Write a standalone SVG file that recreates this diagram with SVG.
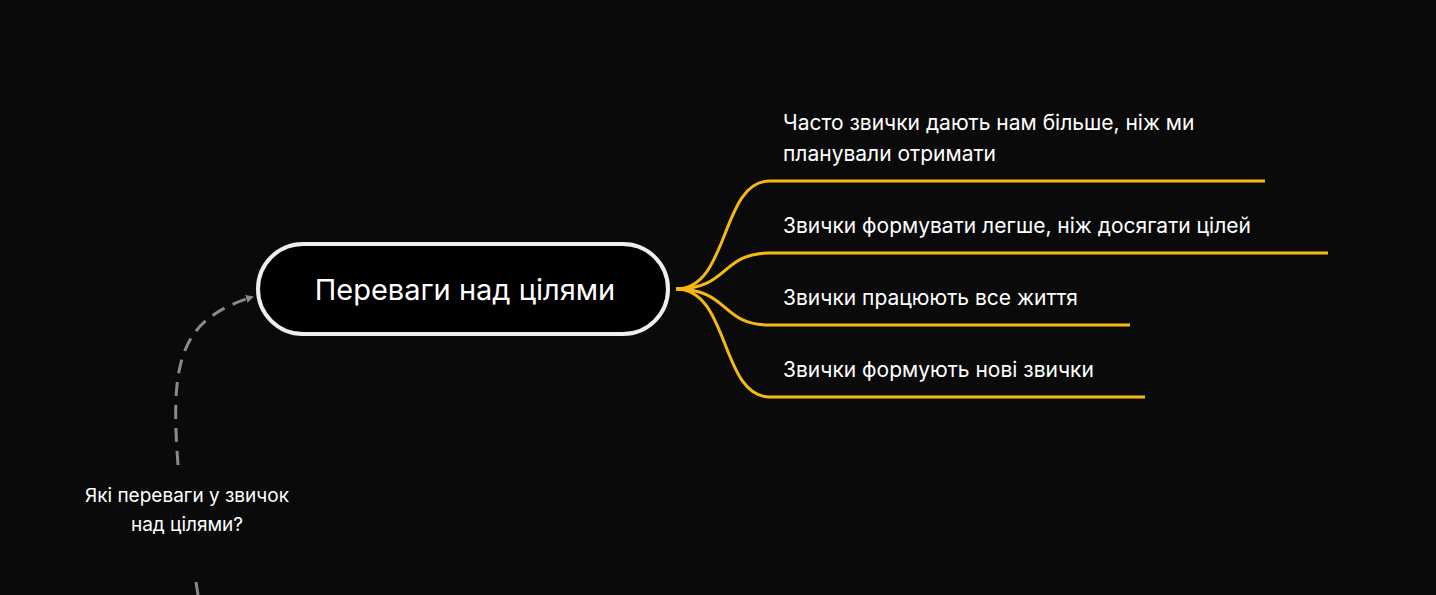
<svg xmlns="http://www.w3.org/2000/svg" width="1436" height="595" viewBox="0 0 1436 595">
<style>
text{font-family:Inter,"Noto Sans",sans-serif;fill:#fff}
.b{fill:none;stroke:#f5b914;stroke-width:3}
.d{fill:none;stroke:#8a8a8a;stroke-width:3;stroke-dasharray:14 9}
.t{font-size:21px}
</style>
<defs><marker id="ah" markerWidth="8" markerHeight="8" refX="6" refY="4" orient="auto" markerUnits="userSpaceOnUse" viewBox="0 0 8 8"><path d="M0,0 L8,4 L0,8 z" fill="#8a8a8a"/></marker></defs>
<rect width="1436" height="595" fill="#0a0a0a"/>
<g id="connectors">
<path class="b" d="M676,289 C730,289 720,181 770,181 L1265,181"/>
<path class="b" d="M676,289 C730,289 720,253 770,253 L1328,253"/>
<path class="b" d="M676,289 C730,289 720,325 770,325 L1130,325"/>
<path class="b" d="M676,289 C730,289 720,397 770,397 L1145,397"/>
<path class="d" d="M178,465 C170,360 180,320 252,297" marker-end="url(#ah)"/>
<path class="d" d="M196,582 L198,595"/>
</g>
<g id="central"><rect x="258" y="244" width="410" height="90" rx="45" fill="#000" stroke="#eee" stroke-width="4"/>
<text x="465" y="300" font-size="29" text-anchor="middle">Переваги над цілями</text></g>
<g id="n1"><text class="t" x="783" y="130">Часто звички дають нам більше, ніж ми</text><text class="t" x="783" y="161">планували отримати</text></g>
<g id="n2"><text class="t" x="783" y="233">Звички формувати легше, ніж досягати цілей</text></g>
<g id="n3"><text class="t" x="783" y="305">Звички працюють все життя</text></g>
<g id="n4"><text class="t" x="783" y="377">Звички формують нові звички</text></g>
<g id="q"><text x="187" y="502" font-size="19" text-anchor="middle">Які переваги у звичок</text><text x="187" y="531" font-size="19" text-anchor="middle">над цілями?</text></g>
</svg>
